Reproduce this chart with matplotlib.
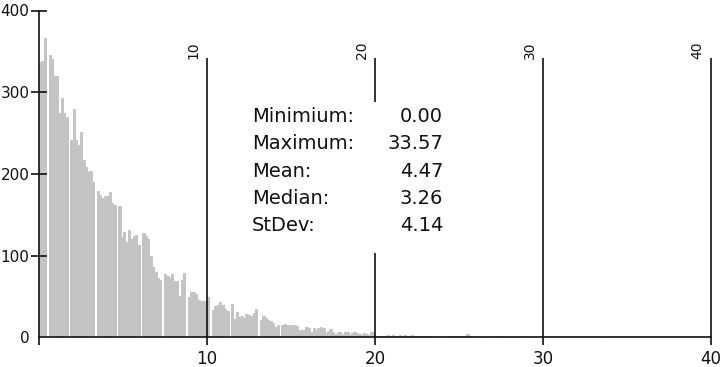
import numpy as np
import matplotlib
matplotlib.use("Agg")
import matplotlib.pyplot as plt
from matplotlib.patches import Rectangle

# ---- data ----
bin_width = 1 / 7
counts = [
    337, 338, 366, 0, 346, 341, 320,      # 0
    320, 274, 293, 274, 270, 0, 241,      # 1
    279, 241, 235, 251, 217, 208, 202,    # 2
    204, 190, 0, 179, 174, 170, 173,      # 3
    173, 178, 164, 162, 0, 161, 123,      # 4
    129, 117, 131, 120, 124, 125, 113,    # 5
    0, 128, 124, 120, 100, 86, 80,        # 6
    73, 70, 0, 77, 75, 72, 77,            # 7
    69, 69, 51, 70, 79, 0, 49,            # 8
    55, 55, 53, 46, 45, 44, 44,           # 9
    49, 0, 33, 38, 40, 43, 40,            # 10
    35, 32, 0, 41, 23, 31, 25,            # 11
    26, 24, 29, 27, 26, 30, 35,           # 12
    0, 21, 26, 24, 21, 20, 17,            # 13
    13, 15, 2, 15, 16, 15, 15,            # 14
    15, 15, 14, 9, 9, 9, 12,              # 15
    11, 6, 11, 9, 11, 12, 11,             # 16
    5, 8, 10, 6, 4, 7, 6,                 # 17
    4, 6, 7, 3, 5, 6, 5,                  # 18
    4, 3, 5, 4, 3, 6, 3,                  # 19
    1, 2, 1, 2, 1, 3, 2,                  # 20
    3, 1, 2, 3, 2, 3, 1,                  # 21
    2, 3, 1, 2, 1, 1, 1,                  # 22
    1, 1, 1, 0, 1, 1, 1,                  # 23
    1, 0, 1, 1, 2, 1, 1,                  # 24
    2, 1, 2, 4, 1, 1, 1,                  # 25
    1, 0, 1, 1, 0, 1, 1,                  # 26
    0, 1, 0, 1, 1, 0, 1,                  # 27
    0, 1, 0, 0, 1, 0, 0,                  # 28
    0, 0, 1, 0, 0, 0, 0,                  # 29
    0, 0, 0, 0, 0, 0, 0,                  # 30
    0, 0, 0, 0, 0, 0, 0,                  # 31
    0, 0, 0, 0, 0, 0, 0,                  # 32
    0, 0, 0, 1, 0, 0, 0,                  # 33
]
x_ticks = [0, 10, 20, 30, 40]
x_tick_labels = ["", "10", "20", "30", "40"]
y_ticks = [0, 100, 200, 300, 400]
y_tick_labels = ["0", "100", "200", "300", "400"]
stat_names = ["Minimium:", "Maximum:", "Mean:", "Median:", "StDev:"]
stat_values = ["0.00", "33.57", "4.47", "3.26", "4.14"]
marker_top = 342

# ---- figure ----
ink = "#111111"
bar_grey = "#c4c4c4"
fig = plt.figure(figsize=(7.2, 3.67), dpi=100)
ax = fig.add_axes([39 / 720, 29.7 / 367, 672 / 720, 326.8 / 367])

edges = np.arange(len(counts) + 1) * bin_width
ax.stairs(counts, edges, fill=True, facecolor=bar_grey, edgecolor=bar_grey,
          linewidth=0.7, zorder=1)

ax.set_xlim(0, 40)
ax.set_ylim(0, 400)

for s in ["top", "right"]:
    ax.spines[s].set_visible(False)
for s in ["left", "bottom"]:
    ax.spines[s].set_color(ink)
    ax.spines[s].set_linewidth(1.2)
    ax.spines[s].set_zorder(4)

ax.set_xticks(x_ticks)
ax.set_xticklabels(x_tick_labels)
ax.set_yticks(y_ticks)
ax.set_yticklabels(y_tick_labels)
ax.tick_params(axis="x", direction="out", length=6, width=1.2, color=ink,
               pad=3.5, labelsize=12, labelcolor=ink)
ax.tick_params(axis="y", direction="inout", length=11, width=1.2, color=ink,
               pad=1.4, labelsize=11, labelcolor=ink)
ax.yaxis.get_major_ticks()[0].tick1line.set_visible(False)

# vertical marker lines with rotated labels on top
for xv, lab in zip(x_ticks[1:], x_tick_labels[1:]):
    ax.vlines(xv, 0, marker_top, color=ink, linewidth=1.2, zorder=2,
              clip_on=False)
    ax.annotate(lab, xy=(xv, marker_top), xytext=(-4.5, -1),
                textcoords="offset points", rotation=90, ha="right",
                va="bottom", fontsize=10, color=ink, annotation_clip=False)

# statistics box
ax.add_patch(Rectangle((0.30, 0.258), 0.32, 0.462, transform=ax.transAxes,
                       facecolor="white", edgecolor="none", zorder=3))
row_top = 270
row_step = 33.4
for i, (nm, val) in enumerate(zip(stat_names, stat_values)):
    yy = row_top - i * row_step
    ax.text(12.68, yy, nm, ha="left", va="center", fontsize=14, color=ink,
            zorder=5)
    ax.text(24.05, yy, val, ha="right", va="center", fontsize=14, color=ink,
            zorder=5)

fig.savefig("out.png", dpi=100)
